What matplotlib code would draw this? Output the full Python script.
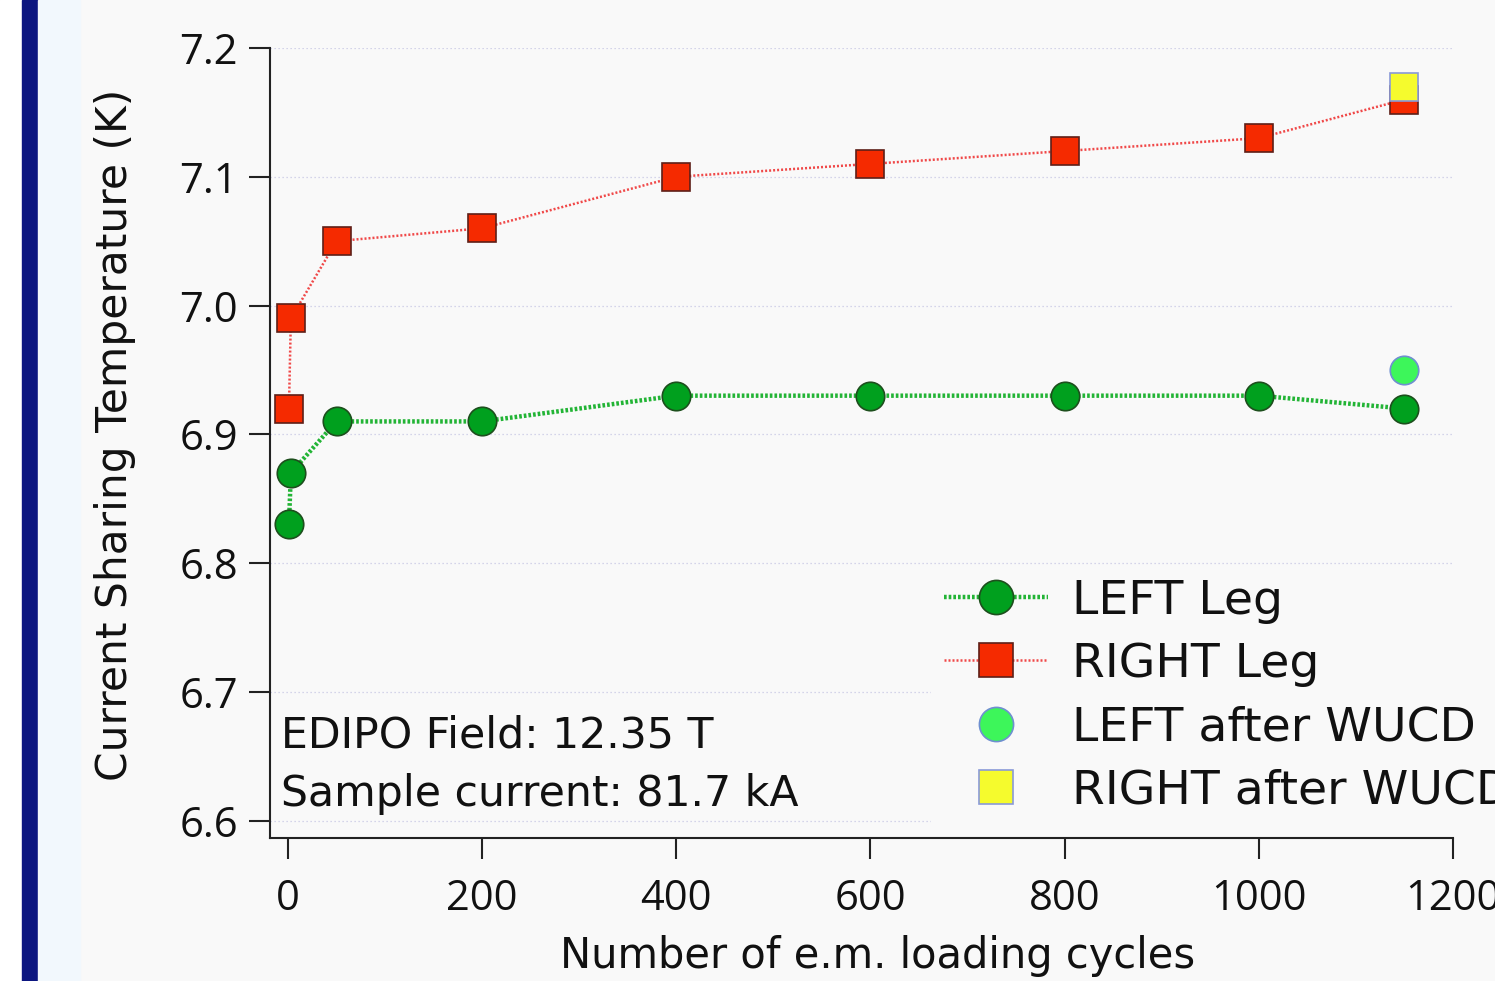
import matplotlib
matplotlib.use("Agg")
import matplotlib.pyplot as plt
from matplotlib.patches import Rectangle

plt.rcParams['font.family'] = ['Open Sans', 'DejaVu Sans']
LABEL_FONT = ['DejaVu Sans']

# ---- data ----
cycles = [1, 3, 50, 200, 400, 600, 800, 1000, 1150]
left_leg = [6.83, 6.87, 6.91, 6.91, 6.93, 6.93, 6.93, 6.93, 6.92]
right_cycles = [1, 3, 50, 200, 400, 600, 800, 1000, 1150]
right_leg = [6.92, 6.99, 7.05, 7.06, 7.10, 7.11, 7.12, 7.13, 7.16]
wucd_cycles = [1150]
left_wucd = [6.95]
right_wucd = [7.17]
xticks = [0, 200, 400, 600, 800, 1000, 1200]
yticks = [6.6, 6.7, 6.8, 6.9, 7.0, 7.1, 7.2]
ytick_labels = ["6.6", "6.7", "6.8", "6.9", "7.0", "7.1", "7.2"]

W, H = 1495, 981
fig = plt.figure(figsize=(W / 100, H / 100), dpi=100, facecolor='#f9f9f9')

# background strips on the left of the slide
fig.patches.append(Rectangle((0, 0), 22 / W, 1, transform=fig.transFigure, color='#ffffff', zorder=0))
fig.patches.append(Rectangle((22 / W, 0), 16 / W, 1, transform=fig.transFigure, color='#0c1680', zorder=0))
fig.patches.append(Rectangle((38 / W, 0), 42 / W, 1, transform=fig.transFigure, color='#f2f8fd', zorder=0))

ax = fig.add_axes([270 / W, 1 - 838 / H, (1453 - 270) / W, (838 - 48) / H])
ax.set_facecolor('#f9f9f9')
ax.set_axisbelow(True)

ax.plot(cycles, left_leg, color='#22b435', lw=3.2, linestyle=(0, (0.6, 0.45)),
        marker='o', markersize=20.5, markerfacecolor='#00a01e', markeredgecolor='#1d4f1d',
        markeredgewidth=1.2, label='LEFT Leg', zorder=3)
ax.plot(right_cycles, right_leg, color='#f04848', lw=1.8, linestyle=(0, (0.8, 0.8)),
        marker='s', markersize=20.5, markerfacecolor='#f52a00', markeredgecolor='#5e1f18',
        markeredgewidth=1.2, label='RIGHT Leg', zorder=3)
ax.plot(wucd_cycles, left_wucd, linestyle='none', marker='o', markersize=20.5,
        markerfacecolor='#3df65a', markeredgecolor='#6f8fd0', markeredgewidth=1.2,
        label='LEFT after WUCD', zorder=4)
ax.plot(wucd_cycles, right_wucd, linestyle='none', marker='s', markersize=20.5,
        markerfacecolor='#f5fb2d', markeredgecolor='#8a9ad8', markeredgewidth=1.2,
        label='RIGHT after WUCD', zorder=4)

ax.set_xlim(-18.5, 1200)
ax.set_ylim(6.5865, 7.2)
ax.set_xticks(xticks)
ax.set_yticks(yticks)
ax.set_yticklabels(ytick_labels)

for s in ['top', 'right']:
    ax.spines[s].set_visible(False)
for s in ['left', 'bottom']:
    ax.spines[s].set_linewidth(1.5)
    ax.spines[s].set_color('#222222')
ax.spines['left'].set_bounds(6.5865, 7.2)

ax.tick_params(axis='y', direction='out', length=15, width=1.5, color='#222222',
               labelsize=30, pad=8, labelcolor='#111111')
ax.tick_params(axis='x', direction='out', length=15, width=1.5, color='#222222',
               labelsize=30, pad=14, labelcolor='#111111')

ax.yaxis.grid(True, color='#c9c9e4', lw=0.9, linestyle=(0, (1, 2.2)))

# legend background patch (hides grid lines under the legend)
ax.add_patch(Rectangle((931 / 1183 - 270 / 1183, 0.004), 0.45, (838 - 568) / 790 - 0.004,
                       transform=ax.transAxes, facecolor='#f9f9f9', edgecolor='none',
                       zorder=0.8, clip_on=False))

ax.set_xlabel('Number of e.m. loading cycles', fontsize=30, color='#111111', family=LABEL_FONT)
ax.xaxis.set_label_coords(0.514, -0.1224)
ax.set_ylabel('Current Sharing Temperature (K)', fontsize=30.5, color='#111111', family=LABEL_FONT)
ax.yaxis.set_label_coords(-0.1135, 0.51)

ax.text(0.0095, (838 - 747) / 790, 'EDIPO Field: 12.35 T', transform=ax.transAxes,
        fontsize=30.7, va='baseline', ha='left', color='#111111', family=LABEL_FONT)
ax.text(0.0095, (838 - 806) / 790, 'Sample current: 81.7 kA', transform=ax.transAxes,
        fontsize=30.7, va='baseline', ha='left', color='#111111', family=LABEL_FONT)

leg = ax.legend(loc='upper left', bbox_to_anchor=(944 / W, 1 - 578.5 / H),
                bbox_transform=fig.transFigure, frameon=False,
                prop={'family': LABEL_FONT, 'size': 34},
                borderpad=0, borderaxespad=0, handlelength=2.2, handletextpad=0.5,
                labelspacing=0.39, markerscale=1.2)
for t in leg.get_texts():
    t.set_color('#111111')

fig.savefig('out.png', dpi=100, facecolor=fig.get_facecolor())
